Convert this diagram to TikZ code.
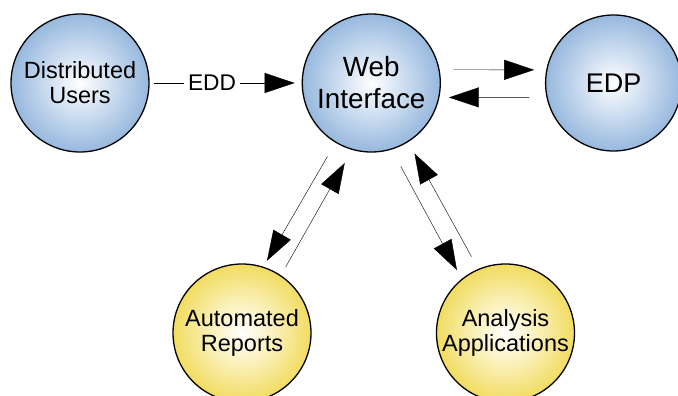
\documentclass[tikz,border=0pt]{standalone}
\usepackage{fontspec}
\setmainfont{Liberation Sans}
\usetikzlibrary{positioning, arrows.meta}
\definecolor{edgeblue}{HTML}{97B8DE}
\definecolor{midblue}{HTML}{CCDDF0}
\definecolor{edgeyellow}{HTML}{F1DC60}
\definecolor{midyellow}{HTML}{FAF0B6}
\pgfdeclareradialshading{blueball}{\pgfpoint{0bp}{0bp}}{color(0bp)=(white); color(12bp)=(midblue); color(25bp)=(edgeblue); color(50bp)=(edgeblue)}
\pgfdeclareradialshading{yellowball}{\pgfpoint{0bp}{0bp}}{color(0bp)=(white); color(12bp)=(midyellow); color(25bp)=(edgeyellow); color(50bp)=(edgeyellow)}
\tikzset{
  % unit/.style={
  %   draw, circle
  % },
  >={Triangle[length=30pt,width=20pt]}, line width=0.8pt,
  unit/.style={circle, draw, line width=1.3pt, minimum size=138pt, inner sep=0pt,
    align=center, font=\fontsize{23.5}{25}\selectfont},
  blue unit/.style={unit, shading=blueball},
  yellow unit/.style={unit, shading=yellowball}
}

\begin{document}
\begin{tikzpicture}[x=1pt, y=-1pt]
      \useasboundingbox (0,0) rectangle (678,396);

      \node[blue unit] (users) at (80,83) {Distributed\\Users};
      \node[blue unit, right = 152pt of users,
        font=\fontsize{27.8}{32}\selectfont] (web) {Web\\Interface};
      \node[blue unit, minimum size=136pt, right = 104pt of web,
        font=\fontsize{27}{30}\selectfont] (edp) {EDP};
      \node[yellow unit] (reports) at (242,333) {Automated\\Reports};
      \node[yellow unit] (apps) at (505.5,333) {Analysis\\Applications};

      \path[->] (users) edge[shorten <=4pt, shorten >=7pt]
        node[pos=0.41, fill=white, inner xsep=4pt, font=\fontsize{22.7}{24}\selectfont] {EDD} (web);

      \draw[->, shorten <=14pt, shorten >=12pt] (web.11) -- (edp.169);
      \draw[->, shorten <=17pt, shorten >=9.5pt] (edp.192) -- (web.348);

      \draw[->, shorten <=16pt, shorten >=7pt] (web.239) -- (reports.72);
      \draw[->, shorten <=9.5pt, shorten >=15pt] (reports.56) -- (web.254);
      \draw[->, shorten <=19pt, shorten >=10pt] (web.287) -- (apps.129);
      \draw[->, shorten <=14pt, shorten >=13pt] (apps.113) -- (web.302);

    \end{tikzpicture}
\end{document}
